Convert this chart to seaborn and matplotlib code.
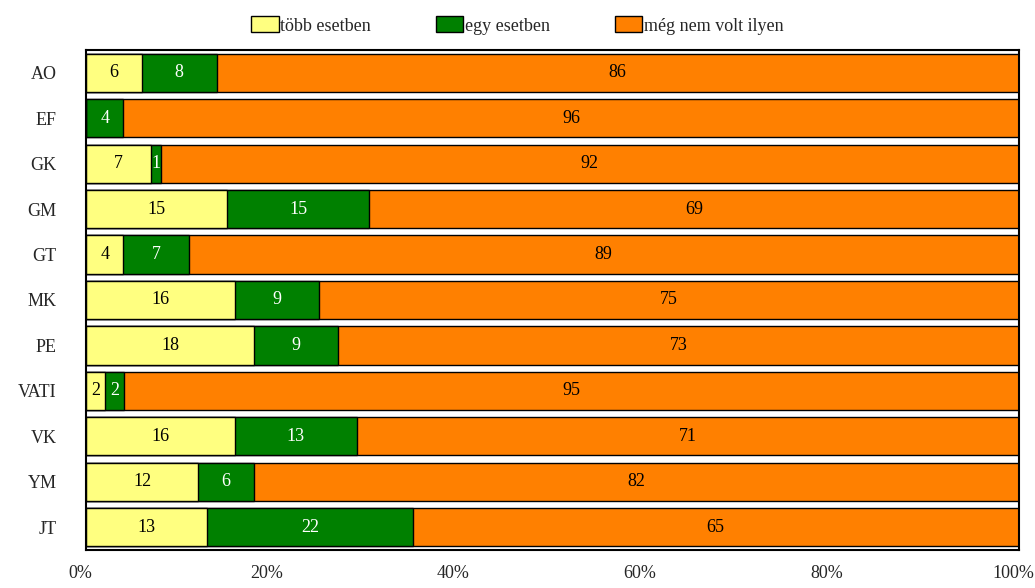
import numpy as np
import pandas as pd
import seaborn as sns
import matplotlib.pyplot as plt
from matplotlib.patches import Patch
from matplotlib.transforms import ScaledTranslation

groups = ["AO", "EF", "GK", "GM", "GT", "MK", "PE", "VATI", "VK", "YM", "JT"]
tobb = [6, 0, 7, 15, 4, 16, 18, 2, 16, 12, 13]
egy = [8, 4, 1, 15, 7, 9, 9, 2, 13, 6, 22]
meg_nem = [86, 96, 92, 69, 89, 75, 73, 95, 71, 82, 65]
series_names = ["több esetben", "egy esetben", "még nem volt ilyen"]
colors = ["#FFFF80", "#008000", "#FF8000"]
text_colors = ["black", "white", "black"]

sns.set_style("white")
plt.rcParams["font.family"] = ["Liberation Serif", "DejaVu Serif"]

df = pd.DataFrame({"group": groups, "tobb": tobb, "egy": egy, "meg": meg_nem})
total = df[["tobb", "egy", "meg"]].sum(axis=1)
df["p1"] = df["tobb"] / total * 100
df["p2"] = df["egy"] / total * 100
df["p3"] = df["meg"] / total * 100
df["c1"] = df["p1"]
df["c2"] = df["p1"] + df["p2"]
df["c3"] = df["c2"] + df["p3"]

fig = plt.figure(figsize=(10.35, 5.88), dpi=100)
ax = fig.add_axes([0.0831, 0.0646, 0.9014, 0.8504])

# stacked by overlaying cumulative bars, widest first
for col, c in [("c3", colors[2]), ("c2", colors[1]), ("c1", colors[0])]:
    sns.barplot(data=df, x=col, y="group", orient="h", color=c, saturation=1,
                width=0.84, edgecolor="black", linewidth=1, ax=ax)

# segment labels
for i, row in df.iterrows():
    starts = [0, row["c1"], row["c2"]]
    widths = [row["p1"], row["p2"], row["p3"]]
    vals = [row["tobb"], row["egy"], row["meg"]]
    for s, w, v, tc in zip(starts, widths, vals, text_colors):
        if v > 0:
            ax.text(s + w / 2, i, str(v), ha="center", va="center",
                    fontsize=13, color=tc)

ax.set_xlim(0, 100)
ax.set_xticks([0, 20, 40, 60, 80, 100])
ax.set_xticklabels(["0%", "20%", "40%", "60%", "80%", "100%"])
ax.set_xlabel("")
ax.set_ylabel("")
ax.tick_params(axis="x", length=0, pad=11, labelsize=13)
ax.tick_params(axis="y", length=0, pad=21, labelsize=13)
shift = ScaledTranslation(-6 / 100, 0, fig.dpi_scale_trans)
for lbl in ax.get_xticklabels():
    lbl.set_transform(lbl.get_transform() + shift)
for sp in ax.spines.values():
    sp.set_color("black")
    sp.set_linewidth(1.5)

handles = [Patch(facecolor=c, edgecolor="black", linewidth=1) for c in colors]
fig.legend(handles, series_names, loc="upper center", bbox_to_anchor=(0.5, 1.0),
           ncol=3, frameon=False, fontsize=13, handlelength=1.5,
           handleheight=1.0, handletextpad=0.1, columnspacing=3.6)

fig.savefig("out.png", dpi=100)
